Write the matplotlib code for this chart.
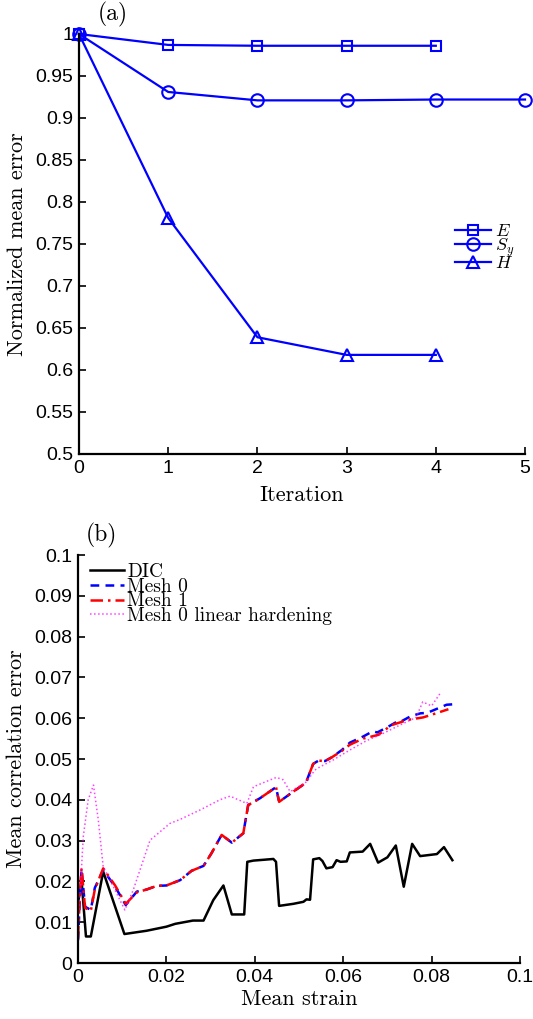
import matplotlib
matplotlib.use("Agg")
import matplotlib.pyplot as plt
from matplotlib.ticker import FuncFormatter

plt.rcParams['mathtext.fontset'] = 'cm'
plt.rcParams['font.family'] = ['Liberation Sans', 'DejaVu Sans']

# (a) normalized mean error vs iteration
iter_E = [0, 1, 2, 3, 4]
err_E = [1.0, 0.987, 0.986, 0.986, 0.986]
iter_Sy = [0, 1, 2, 3, 4, 5]
err_Sy = [1.0, 0.931, 0.921, 0.921, 0.922, 0.922]
iter_H = [0, 1, 2, 3, 4]
err_H = [1.0, 0.781, 0.639, 0.618, 0.618]

# (b) mean correlation error vs mean strain
dic_x = [0.0000, 0.0008, 0.0018, 0.0029, 0.0057, 0.0105, 0.0155, 0.0200, 0.0220, 0.0260,
         0.0284, 0.0306, 0.0329, 0.0348, 0.0376, 0.0383, 0.0397, 0.0420, 0.0442, 0.0448,
         0.0455, 0.0487, 0.0510, 0.0517, 0.0525, 0.0532, 0.0546, 0.0553, 0.0562, 0.0576,
         0.0585, 0.0594, 0.0608, 0.0615, 0.0644, 0.0661, 0.0679, 0.0700, 0.0719, 0.0737,
         0.0756, 0.0774, 0.0812, 0.0828, 0.0847]
dic_y = [0.0147, 0.0203, 0.0065, 0.0065, 0.0224, 0.0071, 0.0079, 0.0089, 0.0096, 0.0104,
         0.0104, 0.0154, 0.0190, 0.0119, 0.0119, 0.0248, 0.0251, 0.0253, 0.0255, 0.0248,
         0.0140, 0.0145, 0.0150, 0.0156, 0.0155, 0.0254, 0.0257, 0.0250, 0.0232, 0.0235,
         0.0252, 0.0248, 0.0249, 0.0271, 0.0273, 0.0292, 0.0246, 0.0259, 0.0288, 0.0187,
         0.0292, 0.0262, 0.0267, 0.0284, 0.0252]

mesh0_x = [0.0000, 0.0004, 0.0008, 0.0016, 0.0029, 0.0038, 0.0057, 0.0084, 0.0108, 0.0133,
           0.0155, 0.0178, 0.0200, 0.0231, 0.0257, 0.0284, 0.0302, 0.0325, 0.0348, 0.0374,
           0.0385, 0.0412, 0.0448, 0.0455, 0.0487, 0.0516, 0.0521, 0.0532, 0.0544, 0.0559,
           0.0574, 0.0597, 0.0615, 0.0645, 0.0667, 0.0677, 0.0700, 0.0721, 0.0726, 0.0753,
           0.0775, 0.0790, 0.0812, 0.0834, 0.0848]
mesh0_y = [0.0056, 0.0150, 0.0230, 0.0138, 0.0130, 0.0184, 0.0228, 0.0187, 0.0142, 0.0175,
           0.0180, 0.0189, 0.0190, 0.0203, 0.0226, 0.0238, 0.0269, 0.0314, 0.0295, 0.0318,
           0.0387, 0.0404, 0.0431, 0.0395, 0.0420, 0.0442, 0.0457, 0.0488, 0.0496, 0.0495,
           0.0504, 0.0522, 0.0540, 0.0555, 0.0568, 0.0565, 0.0578, 0.0591, 0.0589, 0.0605,
           0.0612, 0.0613, 0.0623, 0.0633, 0.0634]

mesh1_x = [0.0000, 0.0004, 0.0008, 0.0016, 0.0029, 0.0038, 0.0057, 0.0084, 0.0108, 0.0133,
           0.0155, 0.0178, 0.0200, 0.0231, 0.0257, 0.0284, 0.0302, 0.0325, 0.0348, 0.0374,
           0.0385, 0.0412, 0.0448, 0.0455, 0.0487, 0.0516, 0.0521, 0.0532, 0.0544, 0.0559,
           0.0574, 0.0597, 0.0615, 0.0645, 0.0679, 0.0709, 0.0747, 0.0781, 0.0810, 0.0838]
mesh1_y = [0.0060, 0.0160, 0.0232, 0.0135, 0.0128, 0.0180, 0.0232, 0.0190, 0.0145, 0.0173,
           0.0180, 0.0189, 0.0190, 0.0203, 0.0226, 0.0238, 0.0269, 0.0314, 0.0295, 0.0318,
           0.0387, 0.0404, 0.0431, 0.0395, 0.0420, 0.0442, 0.0457, 0.0488, 0.0496, 0.0495,
           0.0504, 0.0520, 0.0535, 0.0550, 0.0559, 0.0583, 0.0596, 0.0602, 0.0612, 0.0622]

lin_x = [0.0000, 0.0012, 0.0023, 0.0035, 0.0046, 0.0057, 0.0080, 0.0106, 0.0125, 0.0163,
         0.0208, 0.0231, 0.0276, 0.0321, 0.0344, 0.0382, 0.0397, 0.0449, 0.0464, 0.0480,
         0.0517, 0.0536, 0.0548, 0.0578, 0.0615, 0.0653, 0.0691, 0.0728, 0.0765, 0.0780,
         0.0800, 0.0820]
lin_y = [0.0081, 0.0310, 0.0400, 0.0436, 0.0350, 0.0236, 0.0187, 0.0130, 0.0179, 0.0301,
         0.0342, 0.0352, 0.0375, 0.0400, 0.0409, 0.0391, 0.0432, 0.0455, 0.0449, 0.0420,
         0.0444, 0.0473, 0.0481, 0.0498, 0.0522, 0.0545, 0.0563, 0.0583, 0.0602, 0.0640,
         0.0630, 0.0662]

W, H = 533, 1019
fig = plt.figure(figsize=(W / 100, H / 100), dpi=100)

def px_axes(l, t, r, b):
    return fig.add_axes([l / W, 1 - b / H, (r - l) / W, (b - t) / H])

fmt = FuncFormatter(lambda v, p: ('%g' % round(v, 4)))
cm = 'cmr10'

def style(ax):
    for s in ['top', 'right']:
        ax.spines[s].set_visible(False)
    for s in ['left', 'bottom']:
        ax.spines[s].set_linewidth(1.6)
    ax.tick_params(direction='in', length=5, width=1.2, labelsize=14, pad=4)
    ax.xaxis.set_major_formatter(fmt)
    ax.yaxis.set_major_formatter(fmt)

# ---- panel (a)
ax1 = px_axes(79, 34, 525, 454)
ax1.plot(iter_E, err_E, '-s', color='blue', lw=1.6, ms=7.5, mfc='none', mew=1.5, label='$E$', clip_on=False)
ax1.plot(iter_Sy, err_Sy, '-o', color='blue', lw=1.6, ms=9, mfc='none', mew=1.5, label='$S_y$', clip_on=False)
ax1.plot(iter_H, err_H, '-^', color='blue', lw=1.6, ms=9, mfc='none', mew=1.5, label='$H$', clip_on=False)
ax1.set_xlim(0, 5)
ax1.set_ylim(0.5, 1.0)
ax1.set_xticks(range(6))
ax1.set_yticks([0.5 + 0.05 * i for i in range(11)])
style(ax1)
ax1.set_xlabel('Iteration', fontfamily=cm, fontsize=16)
ax1.set_ylabel('Normalized mean error', fontfamily=cm, fontsize=16)
ax1.xaxis.set_label_coords(0.5, -0.075)
ax1.yaxis.set_label_coords(-0.117, 0.5)
ax1.legend(loc='upper left', bbox_to_anchor=(0.843, 0.55), frameon=False, fontsize=13,
           handlelength=2.0, handletextpad=0.2, labelspacing=-0.2, borderpad=0,
           borderaxespad=0)

# ---- panel (b)
ax2 = px_axes(78, 555, 520, 963)
ax2.plot(dic_x, dic_y, '-', color='black', lw=1.8, label='DIC')
ax2.plot(mesh0_x, mesh0_y, '--', color='blue', lw=1.8, dashes=(3.5, 2.5), label='Mesh 0')
ax2.plot(mesh1_x, mesh1_y, '-.', color='red', lw=1.8, dashes=(5, 2, 1, 2), label='Mesh 1')
ax2.plot(lin_x, lin_y, ':', color='magenta', lw=1.1, alpha=0.75, label='Mesh 0 linear hardening')
ax2.set_xlim(0, 0.1)
ax2.set_ylim(0, 0.1)
ax2.set_xticks([0.02 * i for i in range(6)])
ax2.set_yticks([0.01 * i for i in range(11)])
style(ax2)
ax2.set_xlabel('Mean strain', fontfamily=cm, fontsize=16)
ax2.set_ylabel('Mean correlation error', fontfamily=cm, fontsize=16)
ax2.xaxis.set_label_coords(0.5, -0.065)
ax2.yaxis.set_label_coords(-0.117, 0.5)
ax2.legend(loc='upper left', bbox_to_anchor=(0.027, 0.98), frameon=False,
           prop={'family': cm, 'size': 14}, handlelength=1.75, handletextpad=0.15,
           labelspacing=-0.17, borderpad=0, borderaxespad=0)

fig.text(113 / W, 1 - 14 / H, '(a)', fontfamily=cm, fontsize=17, ha='center', va='center')
fig.text(101 / W, 1 - 535 / H, '(b)', fontfamily=cm, fontsize=17, ha='center', va='center')

fig.savefig('out.png', dpi=100)
